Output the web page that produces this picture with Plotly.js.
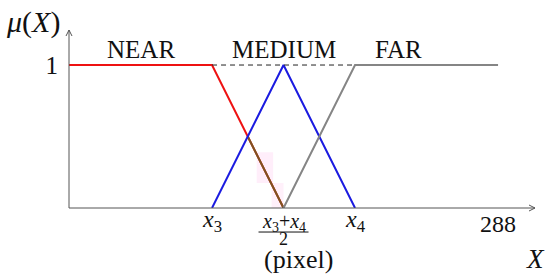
<!DOCTYPE html>
<html>
<head>
<meta charset="utf-8">
<script src="https://cdn.plot.ly/plotly-3.0.1.min.js"></script>
<style>html,body{margin:0;padding:0;background:#fff;}#chart{width:550px;height:278px;}</style>
</head>
<body>
<div id="chart"></div>
<script>
// Membership functions (x in pixels, y = membership)
var nearX = [0, 96, 144];
var nearY = [1, 1, 0];
var mediumX = [96, 144, 192];
var mediumY = [0, 1, 0];
var farX = [144, 192, 288];
var farY = [0, 1, 1];
var overlapX = [120, 144];
var overlapY = [0.5, 0];
var dashX = [96, 192];
var dashY = [1, 1];

var curveLabels = ['NEAR', 'MEDIUM', 'FAR'];
var curveLabelX = [48, 144, 221];
var curveLabelY = [1.11, 1.11, 1.11];

var xTickVals = [96, 192, 288];
var xTickText = ['<i>x</i><sub>3</sub>', '<i>x</i><sub>4</sub>', '288'];
var midTickVal = 144;
var midTickNum = '<i>x</i><sub>3</sub>+<i>x</i><sub>4</sub>';
var midTickDen = '2';
var yTickVals = [1];
var yTickText = ['1'];
var xUnitText = '(pixel)';
var xUnitPos = 154;
var xAxisText = '<i>X</i>';
var yAxisText = '<i>μ</i>(<i>X</i>)';

var FONT = 'Liberation Serif, Times New Roman, serif';
var INK = '#111';

var traces = [
  {x: nearX, y: nearY, mode: 'lines', line: {color: '#ee1111', width: 2}, hoverinfo: 'skip'},
  {x: overlapX, y: overlapY, mode: 'lines', line: {color: '#7d5522', width: 2}, hoverinfo: 'skip'},
  {x: mediumX, y: mediumY, mode: 'lines', line: {color: '#1a1ae0', width: 2}, hoverinfo: 'skip'},
  {x: farX, y: farY, mode: 'lines', line: {color: '#858585', width: 2}, hoverinfo: 'skip'},
  {x: dashX, y: dashY, mode: 'lines', line: {color: '#222', width: 1, dash: '5px,4px'}, hoverinfo: 'skip'}
];

function ann(x, xref, y, yref, text, size) {
  return {x: x, y: y, xref: xref, yref: yref, text: text, showarrow: false,
          font: {family: FONT, size: size, color: INK}, xanchor: 'center', yanchor: 'middle'};
}

var annotations = curveLabels.map(function (t, i) {
  return ann(curveLabelX[i], 'x', curveLabelY[i], 'y', t, 25);
});
xTickVals.forEach(function (v, i) {
  var isNum = /^\d+$/.test(xTickText[i]);
  annotations.push(ann(v, 'x', isNum ? -0.088 : -0.072, 'paper', xTickText[i], 24));
});
annotations.push(ann(midTickVal, 'x', -0.082, 'paper', midTickNum, 20));
annotations.push(ann(midTickVal, 'x', -0.175, 'paper', midTickDen, 18));
annotations.push(ann(xUnitPos, 'x', -0.29, 'paper', xUnitText, 26));
annotations.push(ann(1.0, 'paper', -0.287, 'paper', xAxisText, 27));
annotations.push(ann(-0.077, 'paper', 1.045, 'paper', yAxisText, 30));

var axisColor = '#555';
var shapes = [
  {type: 'rect', xref: 'x', yref: 'y', x0: 126, x1: 137, y0: 0.175, y1: 0.39, line: {width: 0}, fillcolor: 'rgba(255,205,240,0.35)', layer: 'below'},
  {type: 'rect', xref: 'x', yref: 'y', x0: 136, x1: 144, y0: 0, y1: 0.175, line: {width: 0}, fillcolor: 'rgba(255,205,240,0.3)', layer: 'below'},
  {type: 'line', xref: 'paper', yref: 'paper', x0: 0, x1: 1, y0: 0, y1: 0, line: {color: axisColor, width: 1}},
  {type: 'line', xref: 'paper', yref: 'paper', x0: 0, x1: 0, y0: 0, y1: 1, line: {color: axisColor, width: 1}},
  {type: 'path', xref: 'paper', yref: 'paper', xsizemode: 'pixel', ysizemode: 'pixel', xanchor: 0, yanchor: 1,
   path: 'M-3,-6 L0,0 L3,-6', line: {color: axisColor, width: 1}},
  {type: 'path', xref: 'paper', yref: 'paper', xsizemode: 'pixel', ysizemode: 'pixel', xanchor: 1, yanchor: 0,
   path: 'M-6,3 L0,0 L-6,-3', line: {color: axisColor, width: 1}},
  {type: 'line', xref: 'x', yref: 'paper', xsizemode: 'pixel', xanchor: midTickVal,
   x0: -25, x1: 25, y0: -0.135, y1: -0.135, line: {color: INK, width: 1}}
];

var layout = {
  width: 550, height: 278,
  margin: {l: 69, r: 15, t: 30, b: 70},
  paper_bgcolor: '#fff', plot_bgcolor: '#fff',
  showlegend: false,
  xaxis: {range: [0, 312.8], showgrid: false, zeroline: false, showline: false,
          showticklabels: false, ticks: '', fixedrange: true},
  yaxis: {range: [0, 1.245], showgrid: false, zeroline: false, showline: false,
          tickvals: yTickVals, ticktext: yTickText, ticks: '', ticklabelstandoff: 10,
          tickfont: {family: FONT, size: 25, color: INK}, fixedrange: true},
  annotations: annotations,
  shapes: shapes
};

Plotly.newPlot('chart', traces, layout, {displayModeBar: false, staticPlot: true});
</script>
</body>
</html>
